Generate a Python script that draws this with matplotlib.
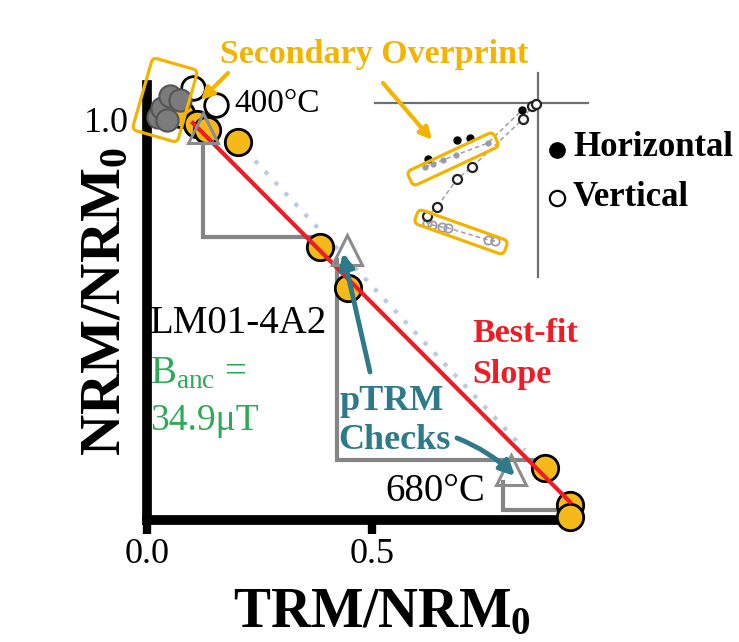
"""Arai plot (NRM lost vs TRM gained) for LM01-4A2 with a Zijderveld inset."""

import matplotlib

matplotlib.use("Agg")
import matplotlib.pyplot as plt
from matplotlib.patches import FancyBboxPatch
from matplotlib.transforms import Affine2D

plt.rcParams["font.family"] = ["Liberation Serif", "DejaVu Serif"]
plt.rcParams["mathtext.fontset"] = "custom"
plt.rcParams["mathtext.rm"] = "Liberation Serif"
plt.rcParams["mathtext.it"] = "Liberation Serif:italic"
plt.rcParams["mathtext.bf"] = "Liberation Serif:bold"

# --- Arai plot data (fractions of NRM0) ---
trm_fit = [0.075, 0.110, 0.133, 0.202, 0.384, 0.447, 0.884, 0.940, 0.940]
nrm_fit = [1.015, 0.990, 0.975, 0.945, 0.683, 0.580, 0.130, 0.038, 0.008]
trm_over = [0.024, 0.033, 0.044, 0.051, 0.073]
nrm_over = [1.008, 1.030, 1.000, 1.060, 1.050]
trm_open = [0.102, 0.153]
nrm_open = [1.080, 1.037]
trm_check = [0.124, 0.444, 0.809]
nrm_check = [0.980, 0.675, 0.125]
check_x = [0.124, 0.422, 0.791]
check_top = [0.975, 0.650, 0.095]
check_bot = [0.7075, 0.150, 0.025]
check_end = [0.384, 0.867, 0.933]
fit_x = [0.102, 0.940]
fit_y = [0.9925, 0.045]
alt_x = [0.218, 0.840]
alt_y = [0.925, 0.175]
xticks = [0.0, 0.5]
xticklabels = ["0.0", "0.5"]
yticks = [1.0]
yticklabels = ["1.0"]

# --- Zijderveld inset (arbitrary units) ---
hor_x_over = [-1.13, -1.05, -0.95, -0.82, -0.50]
hor_y_over = [-0.64, -0.61, -0.57, -0.52, -0.40]
hor_x = [-1.10, -0.81, -0.68, -0.16, -0.03]
hor_y = [-0.56, -0.37, -0.35, -0.07, -0.02]
ver_x_over = [-0.43, -0.50, -0.90, -0.96, -1.06, -1.11]
ver_y_over = [-1.38, -1.37, -1.25, -1.24, -1.22, -1.20]
ver_x = [-1.11, -1.01, -0.81, -0.66, -0.15, -0.06, -0.02]
ver_y = [-1.13, -1.04, -0.76, -0.64, -0.16, -0.03, -0.01]

GOLD = "#F2B400"
ORANGE = "#F6B91A"
TEAL = "#2F7A8A"
GREEN = "#2DAA55"
RED = "#EE1C25"
GRAY = "#858585"

W, H = 739, 642
fig = plt.figure(figsize=(W / 100, H / 100), dpi=100)
fig.patch.set_facecolor("white")

# main axes: x=0 at px 147, y=0 at px 520 (from top)
ax = fig.add_axes([147 / W, (H - 520) / H, 423 / W, 435 / H])
ax.set_xlim(0, 0.94)
ax.set_ylim(0, 1.0875)
for side in ("top", "right"):
    ax.spines[side].set_visible(False)
for side in ("left", "bottom"):
    ax.spines[side].set_linewidth(7)
    ax.spines[side].set_color("black")
ax.set_xticks(xticks, xticklabels)
ax.set_yticks(yticks, yticklabels)
ax.tick_params(axis="x", direction="out", length=10, width=6, pad=3, labelsize=26)
ax.tick_params(axis="y", length=0, pad=13, labelsize=26)

for x, top, bot, end in zip(check_x, check_top, check_bot, check_end):
    ax.plot([x, x, end], [top, bot, bot], color=GRAY, lw=3, zorder=2,
            solid_joinstyle="miter", clip_on=False)
ax.plot(alt_x, alt_y, color="#B9CBE0", lw=3, ls=(0, (1, 2.5)), zorder=2)
ax.plot(trm_fit, nrm_fit, "o", ms=19, mfc=ORANGE, mec="black", mew=2,
        zorder=4, clip_on=False)
ax.plot(trm_over, nrm_over, "o", ms=16, mfc="#7b7b7b", mec="#555555", mew=1.5,
        zorder=4.5, clip_on=False)
ax.plot(trm_open, nrm_open, "o", ms=17, mfc="white", mec="black", mew=2,
        zorder=3.5, clip_on=False)
ax.plot(fit_x, fit_y, color=RED, lw=3, zorder=5, clip_on=False)
ax.plot(trm_check, nrm_check, "^", ms=21, mfc="none", mec="#8c8c8c", mew=2.2,
        zorder=6, clip_on=False)

ax.set_xlabel(r"TRM/NRM$_\mathbf{0}$", fontsize=40, fontweight="bold", va="center")
ax.xaxis.set_label_coords((382 - 147) / 423, (520 - 613) / 435)
ax.set_ylabel(r"NRM/NRM$_\mathbf{0}$", fontsize=41, fontweight="bold", va="center")
ax.yaxis.set_label_coords((106 - 147) / 423, (520 - 302) / 435)

# Zijderveld inset: 100 px per unit, origin at px (538, 103)
axi = fig.add_axes([370 / W, (H - 290) / H, 230 / W, 230 / H])
axi.set_xlim(-1.68, 0.62)
axi.set_ylim(-1.87, 0.43)
axi.axis("off")
axi.axhline(0, xmin=0.022, xmax=0.948, color="#6f6f6f", lw=1.6)
axi.axvline(0, ymin=0.057, ymax=0.943, color="#6f6f6f", lw=1.6)
axi.plot(hor_x_over + hor_x[3:] + [0], hor_y_over + hor_y[3:] + [0],
         color="#a0a0a0", lw=1.1, ls=(0, (3, 2)), zorder=1)
axi.plot(ver_x_over + ver_x + [0], ver_y_over + ver_y + [0],
         color="#a0a0a0", lw=1.1, ls=(0, (3, 2)), zorder=1)
axi.plot(hor_x_over, hor_y_over, "o", ms=3.5, color="#9a9aa8", zorder=2)
axi.plot(hor_x, hor_y, "o", ms=5, color="black", zorder=3)
axi.plot(ver_x_over, ver_y_over, "o", ms=6, mfc="none", mec="#9a9aa8", mew=1.3, zorder=2)
axi.plot(ver_x, ver_y, "o", ms=6.5, mfc="white", mec="#222222", mew=1.6, zorder=3)

# annotation overlay in pixel coordinates (y down)
ov = fig.add_axes([0, 0, 1, 1], zorder=10)
ov.set_xlim(0, W)
ov.set_ylim(H, 0)
ov.axis("off")
ov.patch.set_alpha(0)


def rbox(cx, cy, w, h, angle):
    tr = Affine2D().rotate_deg_around(cx, cy, angle) + ov.transData
    ov.add_patch(FancyBboxPatch((cx - w / 2, cy - h / 2), w, h,
                                boxstyle="round,pad=0,rounding_size=5",
                                fill=False, ec=GOLD, lw=2.3, transform=tr))


def arrow(start, tip, color, lw, head, rad=0.0):
    ov.annotate("", xy=tip, xytext=start,
                arrowprops=dict(arrowstyle="-|>", color=color, lw=lw,
                                mutation_scale=head, shrinkA=0, shrinkB=0,
                                connectionstyle=f"arc3,rad={rad}"))


rbox(165, 100, 47, 75, 16)
rbox(453, 159, 95, 16, -25)
rbox(461, 232, 95, 15, 19.6)

arrow((228, 73), (201, 100), GOLD, 3, 18)
arrow((383, 83), (432, 140), GOLD, 3, 18)
arrow((370, 372), (343, 253), TEAL, 3.5, 22)
arrow((457, 438), (515, 476), TEAL, 3.5, 22, rad=-0.1)

ov.text(220, 55, "Secondary Overprint", color=GOLD, fontsize=24.5,
        fontweight="bold", ha="left", va="center")
ov.text(234, 104, "400°C", fontsize=24, ha="left", va="center")
ov.plot([557], [150], "o", ms=11, color="black")
ov.text(573, 148, "Horizontal", fontsize=25, fontweight="bold", ha="left", va="center")
ov.plot([557], [198], "o", ms=11, mfc="white", mec="black", mew=1.6)
ov.text(573, 197, "Vertical", fontsize=25, fontweight="bold", ha="left", va="center")
ov.text(150, 333, "LM01-4A2", fontsize=28, ha="left", va="baseline")
ov.text(150, 383, r"B$_{\mathrm{anc}}$ =", fontsize=28, color=GREEN,
        ha="left", va="baseline")
ov.text(150, 430, "34.9μT", fontsize=27, color=GREEN, ha="left", va="baseline")
ov.text(472, 342, "Best-fit", fontsize=24.5, fontweight="bold", color=RED,
        ha="left", va="baseline")
ov.text(472, 383, "Slope", fontsize=24.5, fontweight="bold", color=RED,
        ha="left", va="baseline")
ov.text(340, 410, "pTRM", fontsize=26, fontweight="bold", color=TEAL,
        ha="left", va="baseline")
ov.text(338, 449, "Checks", fontsize=26, fontweight="bold", color=TEAL,
        ha="left", va="baseline")
ov.text(385, 501, "680°C", fontsize=28, ha="left", va="baseline")

fig.savefig("out.png", dpi=100)
